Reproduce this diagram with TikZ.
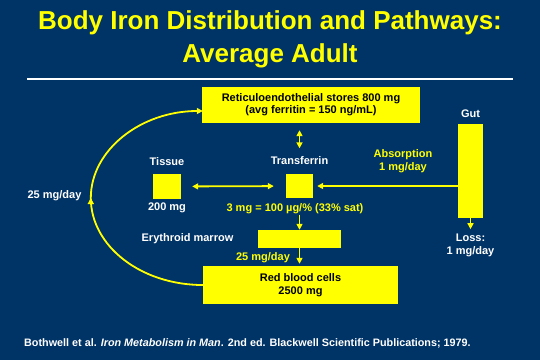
\documentclass[tikz,border=0pt]{standalone}
\usepackage{fontspec}
\setmainfont{Liberation Sans}
\usetikzlibrary{positioning, arrows.meta, decorations.markings}
\definecolor{slidebg}{RGB}{0,51,102}
\definecolor{ironyellow}{RGB}{255,255,0}

\begin{document}
\begin{tikzpicture}[x=1pt, y=-1pt, >={Triangle[length=6pt, width=6pt]},
    pool/.style={fill=ironyellow, inner sep=0pt, text=black, align=center,
      font=\bfseries\fontsize{11}{12}\selectfont},
    lbl/.style={text=white, inner sep=1pt, align=center,
      font=\bfseries\fontsize{11}{13}\selectfont},
    ylbl/.style={lbl, text=ironyellow},
    title/.style={text=ironyellow, inner sep=0pt, font=\bfseries\fontsize{26}{33}\selectfont},
    flow/.style={draw=ironyellow, line width=1.8pt, ->},
    both/.style={flow, <->}]

    \fill[slidebg] (0,0) rectangle (540,360);
    \useasboundingbox (0,0) rectangle (540,360);

    \node[title, anchor=base] (title) at (270,29) {Body Iron Distribution and Pathways:};
    \node[title, anchor=base] (subtitle) at (270,62) {Average Adult};
    \draw[white, line width=2.5pt] (27,79) -- (513,79);

    % iron pools
    \node[pool, minimum width=218pt, minimum height=36pt] (re) at (311,105)
      {Reticuloendothelial stores 800 mg\\(avg ferritin = 150 ng/mL)};
    \node[pool, minimum width=27pt, minimum height=24pt] (tf) at (299.5,186) {};
    \node[pool, minimum width=28pt, minimum height=25pt] (tissue) at (167,186.5) {};
    \node[pool, minimum width=25pt, minimum height=94pt] (gut) at (470.5,171) {};
    \node[pool, minimum width=83pt, minimum height=18pt] (marrow) at (299.5,239) {};
    \node[pool, minimum width=195pt, minimum height=38pt, font=\bfseries\fontsize{11}{13}\selectfont] (rbc) at (300.5,285)
      {Red blood cells\\2500 mg};

    % labels
    \node[lbl, above=8pt of tf] (tflbl) {Transferrin};
    \node[lbl, above=7pt of tissue] (tissuelbl) {Tissue};
    \node[lbl, below=2pt of tissue] (tissuemg) {200 mg};
    \node[lbl, above=5pt of gut] (gutlbl) {Gut};
    \node[lbl, below=15pt of gut] (loss) {Loss:\\1 mg/day};
    \node[ylbl] (absorb) at (403,161.5) {Absorption\\1 mg/day};
    \node[lbl, anchor=base] (cycle) at (54.5,198) {25 mg/day};
    \node[lbl, anchor=base] (marrowlbl) at (187.5,241) {Erythroid marrow};
    \node[ylbl, anchor=base] (rate) at (295,211) {3 mg = 100 µg/\% (33\% sat)};
    \node[ylbl, anchor=base] (erythro) at (263,260) {25 mg/day};
    \node[lbl, anchor=base west, font=\bfseries\fontsize{10.8}{13}\selectfont] (source) at (23,346)
      {Bothwell et al. \textit{Iron Metabolism in Man}. 2nd ed. Blackwell Scientific Publications; 1979.};

    % pathways
    \draw[both, shorten <=7pt, shorten >=7pt] (re.south -| tf) -- (tflbl.north);
    \draw[both, shorten <=11pt, shorten >=12pt] (tissue) -- (tf);
    \draw[flow, shorten >=4pt] (gut.west |- tf) -- (tf);
    \draw[flow] (rate.south -| marrow) -- (marrow);
    \draw[flow, shorten >=2pt] (marrow) -- (rbc.north -| marrow);
    \draw[flow, shorten >=4pt] (gut) -- (loss);
    \draw[flow, decoration={markings, mark=at position 0.5 with {\arrow{>}}},
      postaction={decorate}]
      (rbc.west) arc[start angle=270, end angle=90, x radius=112pt, y radius=87pt];
  \end{tikzpicture}
\end{document}
